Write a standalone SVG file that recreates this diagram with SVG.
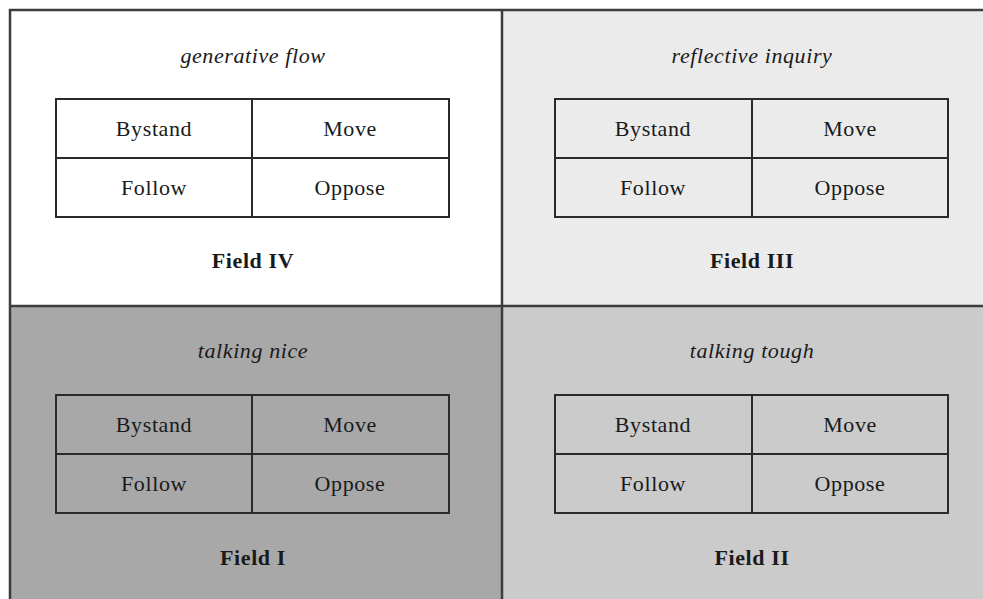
<svg xmlns="http://www.w3.org/2000/svg" width="983" height="599" viewBox="0 0 983 599">
  <style>
    .cell { fill: none; stroke: #2a2a2a; stroke-width: 2; }
    .frame { fill: none; stroke: #3c3c3c; stroke-width: 2.5; }
    .t { font-family: "Liberation Serif", "Times New Roman", serif; font-size: 22px; letter-spacing: 0.6px; fill: #1a1a1a; text-anchor: middle; }
    .title { font-style: italic; }
    .field { font-weight: bold; }
  </style>

  <!-- quadrant backgrounds -->
  <rect x="0" y="0" width="983" height="599" fill="#ffffff"/>
  <rect x="502" y="10" width="481" height="296" fill="#ebebeb"/>
  <rect x="10" y="306" width="492" height="293" fill="#a8a8a8"/>
  <rect x="502" y="306" width="481" height="293" fill="#cbcbcb"/>

  <!-- outer frame and dividers -->
  <g id="frame">
    <polyline class="frame" points="10,599 10,10 983,10"/>
    <line class="frame" x1="502" y1="10" x2="502" y2="599"/>
    <line class="frame" x1="10" y1="306" x2="983" y2="306"/>
  </g>

  <g id="field-iv">
    <text class="t title" x="253" y="63">generative flow</text>
    <rect class="cell" x="56" y="99" width="393" height="118"/>
    <line class="cell" x1="56" y1="158" x2="449" y2="158"/>
    <line class="cell" x1="252" y1="99" x2="252" y2="217"/>
    <text class="t" x="154" y="136">Bystand</text>
    <text class="t" x="350" y="136">Move</text>
    <text class="t" x="154" y="195">Follow</text>
    <text class="t" x="350" y="195">Oppose</text>
    <text class="t field" x="253" y="268">Field IV</text>
  </g>

  <g id="field-iii">
    <text class="t title" x="752" y="63">reflective inquiry</text>
    <rect class="cell" x="555" y="99" width="393" height="118"/>
    <line class="cell" x1="555" y1="158" x2="948" y2="158"/>
    <line class="cell" x1="752" y1="99" x2="752" y2="217"/>
    <text class="t" x="653" y="136">Bystand</text>
    <text class="t" x="850" y="136">Move</text>
    <text class="t" x="653" y="195">Follow</text>
    <text class="t" x="850" y="195">Oppose</text>
    <text class="t field" x="752" y="268">Field III</text>
  </g>

  <g id="field-i">
    <text class="t title" x="253" y="358">talking nice</text>
    <rect class="cell" x="56" y="395" width="393" height="118"/>
    <line class="cell" x1="56" y1="454" x2="449" y2="454"/>
    <line class="cell" x1="252" y1="395" x2="252" y2="513"/>
    <text class="t" x="154" y="432">Bystand</text>
    <text class="t" x="350" y="432">Move</text>
    <text class="t" x="154" y="491">Follow</text>
    <text class="t" x="350" y="491">Oppose</text>
    <text class="t field" x="253" y="565">Field I</text>
  </g>

  <g id="field-ii">
    <text class="t title" x="752" y="358">talking tough</text>
    <rect class="cell" x="555" y="395" width="393" height="118"/>
    <line class="cell" x1="555" y1="454" x2="948" y2="454"/>
    <line class="cell" x1="752" y1="395" x2="752" y2="513"/>
    <text class="t" x="653" y="432">Bystand</text>
    <text class="t" x="850" y="432">Move</text>
    <text class="t" x="653" y="491">Follow</text>
    <text class="t" x="850" y="491">Oppose</text>
    <text class="t field" x="752" y="565">Field II</text>
  </g>
</svg>
